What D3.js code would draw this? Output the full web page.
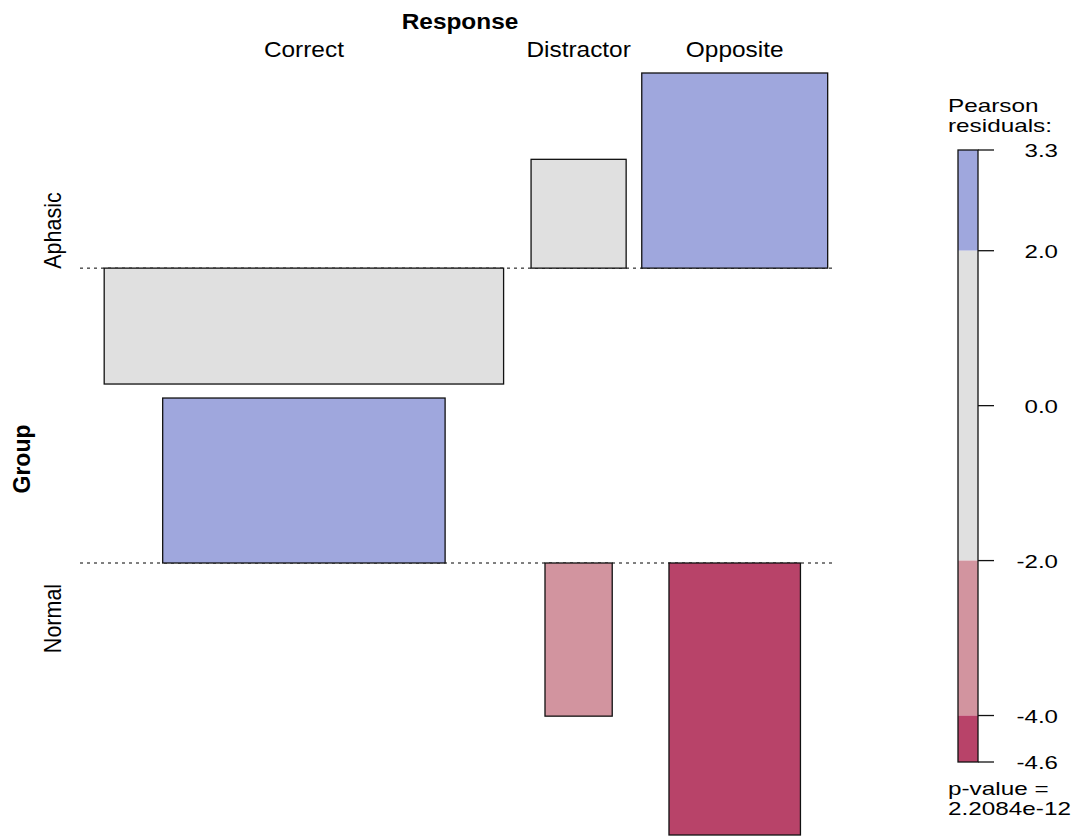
<!DOCTYPE html>
<html>
<head>
<meta charset="utf-8">
<script src="https://cdn.jsdelivr.net/npm/d3@7"></script>
<style>
  body { margin: 0; background: #fff; }
  text { font-family: "Liberation Sans", Arial, Helvetica, sans-serif; }
</style>
</head>
<body>
<div id="chart"></div>
<script>
// Association plot data: rows = Group, columns = Response
const groups = ['Aphasic', 'Normal'];
const responses = ['Correct', 'Distractor', 'Opposite'];
const expected = [[240, 13.6, 52], [120, 6.8, 26]];          // expected counts (bar width ~ sqrt)
const residuals = [[-1.96, 1.84, 3.3], [2.79, -2.59, -4.6]];  // Pearson residuals (bar height)
const legendTicks = [3.3, 2.0, 0.0, -2.0, -4.0, -4.6];
const legendBands = [[3.3, 2], [2, -2], [-2, -4], [-4, -4.6]];
const pValue = '2.2084e-12';

const W = 1079, H = 838;
const svg = d3.select('#chart').append('svg')
    .attr('width', W)
    .attr('height', H);

// the reference text is a little wider than its height suggests
const labStretch = 1.11, legStretch = 1.3;

function addText(px, py, str, opts = {}) {
    const sx = opts.sx || labStretch;
    const rot = opts.rotate ? ' rotate(-90)' : '';
    return svg.append('text')
        .attr('transform', `translate(${px},${py}) scale(${sx},1)${rot}`)
        .attr('text-anchor', opts.anchor || 'middle')
        .style('font-size', (opts.size || 22) + 'px')
        .style('font-weight', opts.bold ? 'bold' : 'normal')
        .text(str);
}

// shading like vcd shading_hcl
function shade(r) {
    if (r > 4) return '#6f7fcf';
    if (r > 2) return '#9fa7dd';
    if (r < -4) return '#b84369';
    if (r < -2) return '#d2949f';
    return '#e0e0e0';
}

// horizontal layout: each column gets space ~ max sqrt(expected)
const colUnits = responses.map((r, j) => d3.max(groups, (g, i) => Math.sqrt(expected[i][j])));
const colStart = [];
colUnits.reduce((acc, u, j) => { colStart[j] = acc; return acc + u; }, 0);
const x = d3.scaleLinear()
    .domain([0, d3.sum(colUnits)])
    .range([82, 838]);
const barFrac = 0.9;
const colCenter = j => x(colStart[j] + colUnits[j] / 2);
const barWidth = (i, j) => (x(Math.sqrt(expected[i][j])) - x(0)) * barFrac;

// vertical layout: each row gets space for its max positive + max negative residual
const rowGap = 14;
const rowPos = groups.map((g, i) => Math.max(0, d3.max(residuals[i])));
const rowNeg = groups.map((g, i) => Math.max(0, -d3.min(residuals[i])));
const totalUnits = d3.sum(rowPos) + d3.sum(rowNeg);
const plotTop = 73, plotBottom = 835;
const k = (plotBottom - plotTop - rowGap * (groups.length - 1)) / totalUnits;
const rowTop = [], rowBase = [], rowBottom = [];
let yy = plotTop;
groups.forEach((g, i) => {
    rowTop[i] = yy;
    rowBase[i] = yy + rowPos[i] * k;
    rowBottom[i] = rowBase[i] + rowNeg[i] * k;
    yy = rowBottom[i] + rowGap;
});

// baselines (dashed)
groups.forEach((g, i) => {
    svg.append('line')
        .attr('x1', 80)
        .attr('x2', 836)
        .attr('y1', rowBase[i])
        .attr('y2', rowBase[i])
        .attr('stroke', '#000')
        .attr('stroke-width', 1)
        .attr('stroke-dasharray', '3,4');
});

// bars
groups.forEach((g, i) => {
    responses.forEach((r, j) => {
        const res = residuals[i][j];
        const w = barWidth(i, j);
        const h = Math.abs(res) * k;
        svg.append('rect')
            .attr('x', colCenter(j) - w / 2)
            .attr('y', res > 0 ? rowBase[i] - h : rowBase[i])
            .attr('width', w)
            .attr('height', h)
            .attr('fill', shade(res))
            .attr('stroke', '#111')
            .attr('stroke-width', 1.3);
    });
});

// column labels
addText((x.range()[0] + x.range()[1]) / 2, 29, 'Response', { bold: true, size: 22 });
responses.forEach((r, j) => addText(colCenter(j), 57, r));

// row labels
addText(30, (plotTop + plotBottom) / 2 + 5, 'Group', { bold: true, size: 23, rotate: true, sx: 1.05 });
groups.forEach((g, i) => {
    addText(61, (rowTop[i] + rowBottom[i]) / 2 + 2, g, { size: 21.5, rotate: true, sx: 1.1 });
});

// legend
const ly = d3.scaleLinear()
    .domain([legendTicks[0], legendTicks[legendTicks.length - 1]])
    .range([150, 762]);
const lx0 = 958, lx1 = 978;

svg.selectAll('.band')
    .data(legendBands)
    .enter()
    .append('rect')
    .attr('class', 'band')
    .attr('x', lx0)
    .attr('y', d => ly(d[0]))
    .attr('width', lx1 - lx0)
    .attr('height', d => ly(d[1]) - ly(d[0]))
    .attr('fill', d => shade((d[0] + d[1]) / 2));

svg.append('rect')
    .attr('x', lx0)
    .attr('y', ly.range()[0])
    .attr('width', lx1 - lx0)
    .attr('height', ly.range()[1] - ly.range()[0])
    .attr('fill', 'none')
    .attr('stroke', '#111')
    .attr('stroke-width', 1.3);

svg.selectAll('.tick')
    .data(legendTicks)
    .enter()
    .append('line')
    .attr('x1', lx1)
    .attr('x2', lx1 + 16)
    .attr('y1', d => ly(d))
    .attr('y2', d => ly(d))
    .attr('stroke', '#111')
    .attr('stroke-width', 1.3);

legendTicks.forEach(t => {
    addText(1058, ly(t) + 7, t.toFixed(1), { anchor: 'end', size: 18.5, sx: legStretch });
});

addText(948, 112, 'Pearson', { anchor: 'start', size: 18, sx: 1.35 });
addText(948, 132, 'residuals:', { anchor: 'start', size: 18, sx: 1.35 });
addText(948, 795, 'p-value =', { anchor: 'start', size: 18, sx: 1.35 });
addText(948, 815, pValue, { anchor: 'start', size: 18, sx: 1.35 });
</script>
</body>
</html>
